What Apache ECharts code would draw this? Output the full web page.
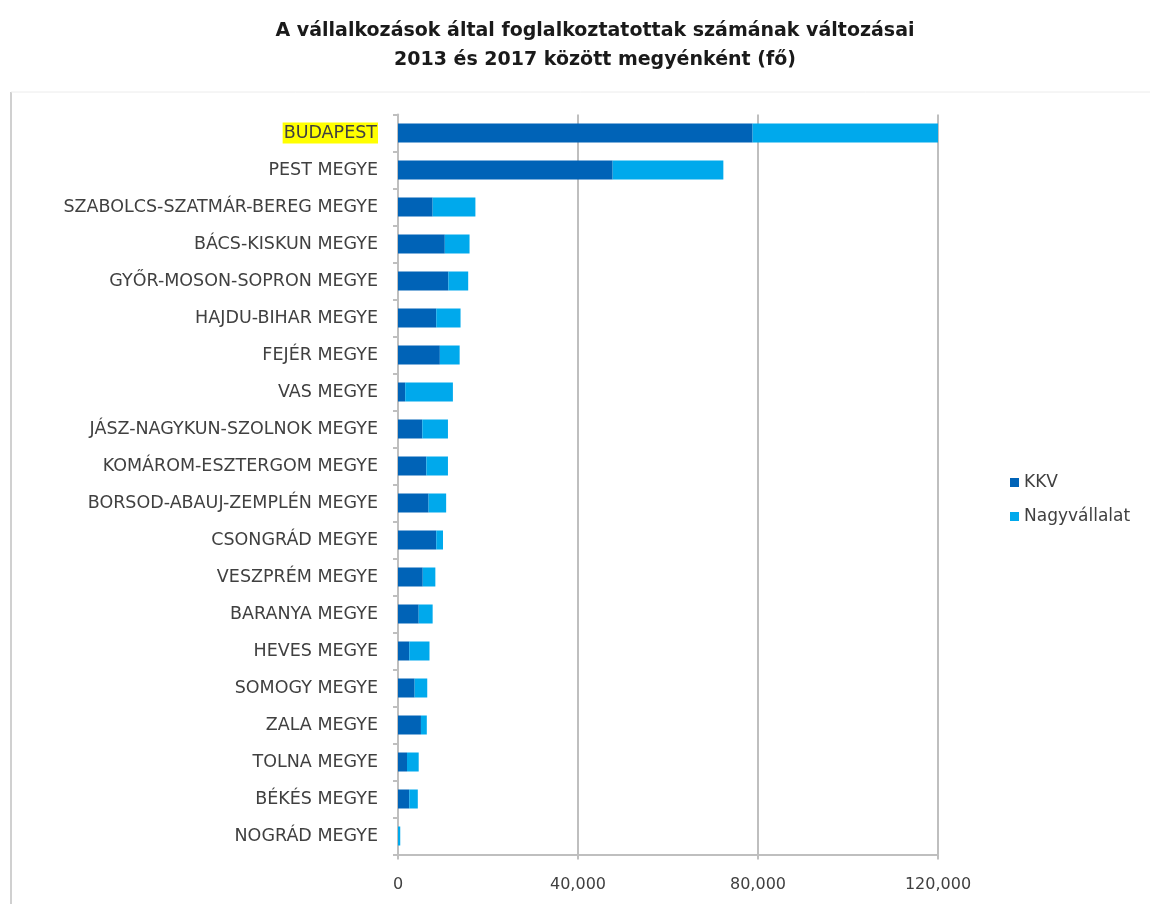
<!DOCTYPE html>
<html>
<head>
<meta charset="utf-8">
<script src="https://cdn.jsdelivr.net/npm/echarts@6/dist/echarts.min.js"></script>
<style>html,body{margin:0;padding:0;background:#fff;}#c{width:1150px;height:904px;}</style>
</head>
<body>
<div id="c"></div>
<script>
const categories = ["BUDAPEST","PEST MEGYE","SZABOLCS-SZATMÁR-BEREG MEGYE","BÁCS-KISKUN MEGYE","GYŐR-MOSON-SOPRON MEGYE","HAJDU-BIHAR MEGYE","FEJÉR MEGYE","VAS MEGYE","JÁSZ-NAGYKUN-SZOLNOK MEGYE","KOMÁROM-ESZTERGOM MEGYE","BORSOD-ABAUJ-ZEMPLÉN MEGYE","CSONGRÁD MEGYE","VESZPRÉM MEGYE","BARANYA MEGYE","HEVES MEGYE","SOMOGY MEGYE","ZALA MEGYE","TOLNA MEGYE","BÉKÉS MEGYE","NOGRÁD MEGYE"];
const kkv = [78800,47700,7700,10400,11200,8500,9300,1600,5400,6300,6800,8500,5500,4600,2500,3700,5100,2000,2500,0];
const nagy = [41600,24600,9500,5500,4400,5400,4400,10600,5700,4800,3900,1500,2800,3100,4500,2800,1300,2600,1900,500];
const xTicks = [0,40000,80000,120000];
const seriesNames = ["KKV","Nagyvállalat"];

const chart = echarts.init(document.getElementById('c'));
const FONT = '"DejaVu Sans", "Open Sans", sans-serif';
chart.setOption({
  backgroundColor: '#fff',
  animation: false,
  title: {
    text: 'A vállalkozások által foglalkoztatottak számának változásai\n2013 és 2017 között megyénként (fő)',
    left: 590, top: 12, textAlign: 'center',
    textStyle: {fontFamily: FONT, fontWeight: 'bold', fontSize: 19, color: '#1a1a1a', lineHeight: 29}
  },
  graphic: [
    {type: 'line', shape: {x1: 11, y1: 92, x2: 11, y2: 904}, style: {stroke: '#d0d0d0', lineWidth: 2}},
    {type: 'line', shape: {x1: 11, y1: 92, x2: 1150, y2: 92}, style: {stroke: '#ececec', lineWidth: 1}}
  ],
  legend: {
    orient: 'vertical', left: 1005, top: 469, itemGap: 17,
    itemWidth: 9, itemHeight: 9, icon: 'rect',
    textStyle: {fontFamily: FONT, fontSize: 17, color: '#404040'},
    data: seriesNames
  },
  grid: {left: 398, right: 212, top: 114.5, bottom: 49.5},
  xAxis: {
    type: 'value', min: 0, max: 120000, interval: 40000,
    axisLine: {show: true, lineStyle: {color: '#bfbfbf', width: 2}},
    axisTick: {show: true, length: 5, lineStyle: {color: '#bfbfbf', width: 2}},
    splitLine: {show: true, lineStyle: {color: '#bfbfbf', width: 2}},
    axisLabel: {
      margin: 22, fontFamily: FONT, fontSize: 16, color: '#404040',
      formatter: v => xTicks.includes(v) ? v.toLocaleString('en-US') : ''
    }
  },
  yAxis: {
    type: 'category', inverse: true, data: categories,
    axisLine: {show: true, lineStyle: {color: '#bfbfbf', width: 2}},
    axisTick: {show: true, length: 5, lineStyle: {color: '#bfbfbf', width: 2}},
    axisLabel: {
      margin: 20, fontFamily: FONT, fontSize: 17.5, color: '#404040',
      formatter: (v, i) => i === 0 ? '{hl|' + v + '}' : v,
      rich: {hl: {backgroundColor: '#ffff00', fontFamily: FONT, fontSize: 17.5, color: '#404040', padding: [2, 1, 1, 1]}}
    }
  },
  series: [
    {name: seriesNames[0], type: 'bar', stack: 's', data: kkv, barWidth: 19, itemStyle: {color: '#0063b7'}},
    {name: seriesNames[1], type: 'bar', stack: 's', data: nagy, barWidth: 19, itemStyle: {color: '#00a9ec'}}
  ]
});
</script>
</body>
</html>
